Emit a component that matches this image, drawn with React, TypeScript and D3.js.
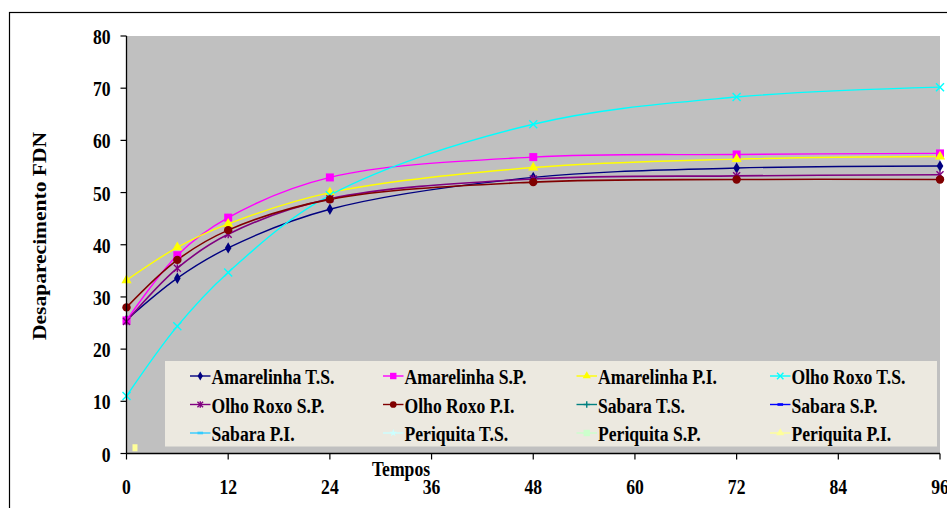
import React from "react";
import * as d3 from "d3";

const times = [0, 6, 12, 24, 48, 72, 96];
const xTicks = [0, 12, 24, 36, 48, 60, 72, 84, 96];
const yTicks = [0, 10, 20, 30, 40, 50, 60, 70, 80];

const amarelinhaTS = [25.6, 33.6, 39.4, 46.8, 52.9, 54.7, 55.1];
const amarelinhaSP = [25.5, 38.0, 45.2, 52.9, 56.8, 57.3, 57.5];
const amarelinhaPI = [33.2, 39.5, 44.0, 50.0, 54.8, 56.4, 56.9];
const olhoRoxoTS = [11.0, 24.4, 34.7, 49.5, 63.1, 68.3, 70.2];
const olhoRoxoSP = [25.3, 35.5, 42.0, 48.8, 52.6, 53.2, 53.4];
const olhoRoxoPI = [28.0, 37.1, 42.8, 48.7, 52.0, 52.5, 52.5];
const periquitaPIT = [1];
const periquitaPIV = [1.1];

type Shape = "diamond" | "square" | "triangle" | "x" | "asterisk" | "circle" | "plus" | "dash" | "star" | "rect";

interface Series {
  name: string;
  color: string;
  shape: Shape;
  xs: number[];
  ys: number[];
  width: number;
}

const series: Series[] = [
  { name: "Amarelinha T.S.", color: "#000080", shape: "diamond", xs: times, ys: amarelinhaTS, width: 1.4 },
  { name: "Amarelinha S.P.", color: "#FF00FF", shape: "square", xs: times, ys: amarelinhaSP, width: 1.4 },
  { name: "Amarelinha P.I.", color: "#FFFF00", shape: "triangle", xs: times, ys: amarelinhaPI, width: 1.4 },
  { name: "Olho Roxo T.S.", color: "#00FFFF", shape: "x", xs: times, ys: olhoRoxoTS, width: 1.4 },
  { name: "Olho Roxo S.P.", color: "#800080", shape: "asterisk", xs: times, ys: olhoRoxoSP, width: 1.6 },
  { name: "Olho Roxo P.I.", color: "#800000", shape: "circle", xs: times, ys: olhoRoxoPI, width: 1.6 },
  { name: "Sabara T.S.", color: "#008080", shape: "plus", xs: [], ys: [], width: 1.4 },
  { name: "Sabara S.P.", color: "#0000FF", shape: "dash", xs: [], ys: [], width: 1.4 },
  { name: "Sabara P.I.", color: "#33CCFF", shape: "dash", xs: [], ys: [], width: 1.4 },
  { name: "Periquita T.S.", color: "#CCFFFF", shape: "star", xs: [], ys: [], width: 1.4 },
  { name: "Periquita S.P.", color: "#CCFFCC", shape: "square", xs: [], ys: [], width: 1.4 },
  { name: "Periquita P.I.", color: "#FFFF99", shape: "triangle", xs: periquitaPIT, ys: periquitaPIV, width: 1.4 },
];

const W = 947;
const H = 508;
const PL = 126.5;
const PR = 940;
const PT = 36;
const PB = 453.5;
const SX = 0.84;
const FONT = "'Liberation Serif', 'Times New Roman', serif";

function Marker({ shape, color, x, y, scale = 1 }: { shape: Shape; color: string; x: number; y: number; scale?: number }) {
  const s = scale;
  const t = `translate(${x},${y})`;
  switch (shape) {
    case "diamond":
      return <path transform={t} d={d3.symbol(d3.symbolDiamond, 38 * s * s)()!} fill={color} />;
    case "square":
      return <rect x={x - 4 * s} y={y - 4 * s} width={8 * s} height={8 * s} fill={color} />;
    case "triangle":
      return <path transform={t} d={d3.symbol(d3.symbolTriangle, 45 * s * s)()!} fill={color} />;
    case "circle":
      return <circle cx={x} cy={y} r={4.2 * s} fill={color} />;
    case "x":
      return (
        <g transform={t} stroke={color} strokeWidth={1.4}>
          <line x1={-4 * s} y1={-4 * s} x2={4 * s} y2={4 * s} />
          <line x1={-4 * s} y1={4 * s} x2={4 * s} y2={-4 * s} />
        </g>
      );
    case "asterisk":
      return (
        <g transform={t} stroke={color} strokeWidth={1.4}>
          <line x1={-3.5 * s} y1={-3.5 * s} x2={3.5 * s} y2={3.5 * s} />
          <line x1={-3.5 * s} y1={3.5 * s} x2={3.5 * s} y2={-3.5 * s} />
          <line x1={0} y1={-4 * s} x2={0} y2={4 * s} />
        </g>
      );
    case "plus":
      return (
        <g transform={t} stroke={color} strokeWidth={1.4}>
          <line x1={-4 * s} y1={0} x2={4 * s} y2={0} />
          <line x1={0} y1={-4 * s} x2={0} y2={4 * s} />
        </g>
      );
    case "dash":
      return <rect x={x - 3.5 * s} y={y - 1.3} width={7 * s} height={2.6} fill={color} />;
    case "star":
      return <path transform={t} d={d3.symbol(d3.symbolStar, 30 * s * s)()!} fill={color} />;
    case "rect":
      return <rect x={x - 2.5} y={y - 3.5} width={5} height={7} fill={color} />;
  }
}

export default function App() {
  const x = d3.scaleLinear().domain([0, 96]).range([PL, PR]);
  const y = d3.scaleLinear().domain([0, 80]).range([PB, PT]);
  const line = d3
    .line<[number, number]>()
    .x((d) => x(d[0]))
    .y((d) => y(d[1]))
    .curve(d3.curveCatmullRom.alpha(0.5));

  const legendCols = [190, 383, 576.5, 770];
  const legendRows = [376, 404.5, 433];

  return (
    <svg width={W} height={H} style={{ position: "absolute", left: 0, top: 0, background: "#fff" }} fontFamily={FONT}>
      <rect x={9.5} y={12.5} width={960} height={520} fill="#fff" stroke="#000" strokeWidth={1.2} />
      <rect x={PL} y={PT} width={PR - PL} height={PB - PT} fill="#C0C0C0" />

      {/* legend */}
      <rect x={165} y={361} width={772} height={85.5} fill="#ECE9E0" />

      {series.map((s) =>
        s.xs.length > 1 ? (
          <path
            key={s.name}
            d={line(s.xs.map((t, i) => [t, s.ys[i]] as [number, number]))!}
            fill="none"
            stroke={s.color}
            strokeWidth={s.width}
          />
        ) : null
      )}
      {series.map((s) =>
        s.xs.map((t, i) => (
          <Marker
            key={s.name + i}
            shape={s.xs.length === 1 ? "rect" : s.shape}
            color={s.color}
            x={x(t)}
            y={y(s.ys[i])}
          />
        ))
      )}

      {series.map((s, i) => {
        const cx = legendCols[i % 4];
        const cy = legendRows[Math.floor(i / 4)];
        return (
          <g key={"lg" + s.name}>
            <line x1={cx} y1={cy} x2={cx + 20.5} y2={cy} stroke={s.color} strokeWidth={1.4} />
            <Marker shape={s.shape} color={s.color} x={cx + 10.25} y={cy} scale={0.8} />
            <text
              transform={`translate(${cx + 21.5},${cy + 8}) scale(${SX},1)`}
              fontSize={21}
              fontWeight="bold"
              fill="#000"
            >
              {s.name}
            </text>
          </g>
        );
      })}

      {/* axes */}
      <line x1={PL} y1={PT} x2={PL} y2={PB} stroke="#000" strokeWidth={1.3} />
      <line x1={PL} y1={PB} x2={PR} y2={PB} stroke="#000" strokeWidth={1.3} />
      {yTicks.map((v) => (
        <g key={"yt" + v}>
          <line x1={PL - 6} y1={y(v)} x2={PL} y2={y(v)} stroke="#000" strokeWidth={1.2} />
          <text
            transform={`translate(${110.5},${y(v) + 8}) scale(${SX},1)`}
            textAnchor="end"
            fontSize={21}
            fontWeight="bold"
          >
            {v}
          </text>
        </g>
      ))}
      {xTicks.map((v) => (
        <g key={"xt" + v}>
          <line x1={x(v)} y1={PB} x2={x(v)} y2={PB + 6} stroke="#000" strokeWidth={1.2} />
          <text
            transform={`translate(${x(v)},${494}) scale(${SX},1)`}
            textAnchor="middle"
            fontSize={21}
            fontWeight="bold"
          >
            {v}
          </text>
        </g>
      ))}
      <text
        transform={`translate(401,476) scale(${SX},1)`}
        textAnchor="middle"
        fontSize={21}
        fontWeight="bold"
      >
        Tempos
      </text>
      <text
        transform={`translate(46,236) scale(${SX},1) rotate(-90)`}
        textAnchor="middle"
        fontSize={21.5}
        fontWeight="bold"
      >
        Desaparecimento FDN
      </text>
    </svg>
  );
}
